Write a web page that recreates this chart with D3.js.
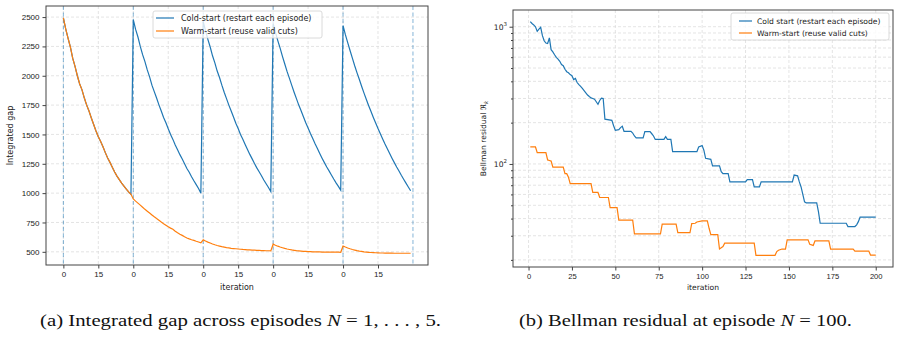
<!DOCTYPE html>
<html>
<head>
<meta charset="utf-8">
<script src="https://cdn.jsdelivr.net/npm/d3@7"></script>
<style>
  body { margin: 0; background: #fff; }
  svg { display: block; font-family: "DejaVu Sans", sans-serif; }
</style>
</head>
<body>
<div id="chart"></div>
<script>
// ---- (a) integrated gap, 5 episodes of 30 iterations ----
var coldEp1 = [2494, 2400, 2320, 2245, 2150, 2080, 2000, 1930, 1880, 1810, 1750, 1700, 1640, 1585, 1530,
               1480, 1440, 1395, 1345, 1300, 1262, 1220, 1180, 1145, 1115, 1085, 1060, 1035, 1010, 990];
var coldEp2 = [2478, 2395, 2330, 2250, 2180, 2120, 2050, 1990, 1920, 1865, 1810, 1752, 1700, 1645, 1600,
               1548, 1500, 1458, 1410, 1370, 1328, 1290, 1250, 1210, 1178, 1140, 1105, 1072, 1040, 1000];
var coldEp3 = [2462, 2385, 2310, 2245, 2170, 2110, 2040, 1985, 1920, 1860, 1805, 1750, 1700, 1648, 1595,
               1550, 1500, 1460, 1415, 1372, 1330, 1292, 1252, 1215, 1182, 1148, 1112, 1080, 1048, 1014];
var coldEp4 = [2445, 2370, 2300, 2235, 2165, 2100, 2035, 1978, 1918, 1860, 1805, 1750, 1702, 1650, 1600,
               1555, 1508, 1465, 1420, 1380, 1338, 1298, 1260, 1222, 1190, 1155, 1120, 1088, 1058, 1026];
var coldEp5 = [2426, 2350, 2282, 2215, 2150, 2085, 2025, 1968, 1908, 1852, 1798, 1745, 1695, 1645, 1598,
               1550, 1505, 1462, 1418, 1378, 1338, 1298, 1260, 1222, 1188, 1152, 1118, 1085, 1052, 1020];
// episode 1 is the same for both methods (nothing to reuse yet)
var warmEp2 = [950, 932, 915, 898, 880, 862, 846, 830, 814, 798, 783, 769, 754, 740, 727,
               713, 702, 692, 676, 662, 650, 640, 628, 618, 610, 603, 597, 590, 584, 577];
var warmEp3 = [602, 592, 583, 575, 567, 560, 554, 549, 544, 540, 536, 533, 530, 528, 526,
               524, 522, 520, 519, 517, 516, 515, 514, 513, 512, 511, 510, 509, 509, 508];
var warmEp4 = [565, 556, 548, 541, 535, 529, 524, 520, 516, 513, 510, 508, 506, 504, 503,
               502, 501, 500, 500, 499, 499, 498, 498, 498, 497, 497, 497, 497, 497, 496];
var warmEp5 = [550, 541, 533, 526, 520, 515, 510, 506, 503, 500, 498, 496, 494, 493, 492,
               491, 490, 490, 489, 489, 489, 489, 488, 488, 488, 488, 488, 488, 488, 488];
var episodeLen = 30;
var episodeStarts = [0, 30, 60, 90, 120, 150];
var gapTickVals = [0, 15, 30, 45, 60, 75, 90, 105, 120, 135];
var gapTickLabels = ["0", "15", "0", "15", "0", "15", "0", "15", "0", "15"];
var gapYTicks = [500, 750, 1000, 1250, 1500, 1750, 2000, 2250, 2500];

// ---- (b) Bellman residual at episode 100 (vertices of the traces) ----
var coldIter = [1, 2, 3, 4, 5, 6, 7, 8, 9, 10, 11, 12, 13, 14, 15, 16, 17, 18, 19, 20, 21, 22, 23, 24, 25,
                26, 27, 28, 29, 30, 31, 32, 33, 34, 35, 36, 37, 38, 39, 40, 41, 42, 43, 44, 48, 49, 50, 52,
                53, 54, 55, 59, 60, 61, 62, 66, 67, 70, 71, 72, 73, 78, 79, 80, 82, 83, 97, 98, 100, 101,
                102, 105, 106, 110, 111, 112, 115, 116, 125, 126, 129, 130, 133, 134, 152, 153, 155, 156,
                157, 158, 159, 160, 166, 167, 168, 183, 184, 188, 189, 190, 191, 200];
var coldRes = [1088, 1055, 1030, 1000, 925, 960, 990, 860, 790, 760, 755, 830, 680, 655, 625, 598, 580, 560,
               530, 520, 490, 470, 462, 448, 440, 412, 420, 392, 378, 368, 355, 342, 330, 318, 310, 303,
               300, 296, 284, 272, 290, 302, 300, 212, 208, 190, 176, 178, 184, 188, 173, 173, 168, 160,
               155, 155, 172, 172, 166, 160, 151, 151, 158, 151, 151, 123, 123, 133, 136, 126, 110, 108,
               97, 97, 88, 85, 85, 74, 74, 77, 77, 68, 68, 74, 74, 83, 82, 74, 68, 60, 53, 52, 52, 45,
               37, 37, 35, 35, 36, 38, 41, 41];
var warmIter = [1, 4, 5, 10, 11, 12, 13, 14, 20, 21, 22, 23, 24, 36, 37, 40, 41, 46, 47, 51, 52, 60, 61, 76,
                77, 85, 86, 93, 94, 96, 97, 100, 103, 104, 105, 109, 110, 111, 112, 113, 130, 131, 142, 143,
                144, 146, 148, 149, 161, 162, 164, 165, 173, 174, 187, 188, 196, 197, 200];
var warmRes = [133, 133, 121, 121, 107, 106, 105, 95, 95, 85, 85, 80, 72, 72, 62, 62, 57, 57, 48, 48, 39, 39,
               31, 31, 36.5, 36.5, 31.6, 31.6, 36.8, 37, 37.8, 38.5, 38.5, 34, 30.6, 30.6, 24, 24.5, 25,
               26.5, 26.5, 21.6, 21.6, 23, 23.5, 24, 24, 28, 28, 26, 25.5, 27.5, 27.5, 24, 24, 23.2, 23.2,
               21.7, 21.7];
var resXTicks = [0, 25, 50, 75, 100, 125, 150, 175, 200];
var resMajor = [100, 1000];
var resMinor = [20, 30, 40, 50, 60, 70, 80, 90, 200, 300, 400, 500, 600, 700, 800, 900];

var blue = "#1f77b4", orange = "#ff7f0e";

var svg = d3.select("#chart")
            .append("svg")
            .attr("width", 900)
            .attr("height", 338);

// ======================= panel (a) =======================
var coldGap = coldEp1.concat(coldEp2, coldEp3, coldEp4, coldEp5);
var warmGap = coldEp1.concat(warmEp2, warmEp3, warmEp4, warmEp5);
var nIter = episodeLen * 5;

var aL = 46, aR = 428, aT = 6, aB = 265;
var gLo = d3.min(warmGap), gHi = d3.max(coldGap.concat(warmGap));
var xA = d3.scaleLinear()
           .domain([-0.05 * (nIter - 1), (nIter - 1) * 1.05])
           .range([aL, aR]);
var yA = d3.scaleLinear()
           .domain([gLo - 0.05 * (gHi - gLo), gHi + 0.05 * (gHi - gLo)])
           .range([aB, aT]);

var pa = svg.append("g");

// grid
pa.selectAll("line.vgrid")
  .data(gapTickVals)
  .enter()
  .append("line")
  .attr("x1", d => xA(d)).attr("x2", d => xA(d))
  .attr("y1", aT).attr("y2", aB)
  .attr("stroke", "#d9d9d9")
  .attr("stroke-dasharray", "3,2")
  .attr("stroke-width", 0.7);
pa.selectAll("line.hgrid")
  .data(gapYTicks)
  .enter()
  .append("line")
  .attr("x1", aL).attr("x2", aR)
  .attr("y1", d => yA(d)).attr("y2", d => yA(d))
  .attr("stroke", "#d9d9d9")
  .attr("stroke-dasharray", "3,2")
  .attr("stroke-width", 0.7);

// episode boundaries
pa.selectAll("line.ep")
  .data(episodeStarts)
  .enter()
  .append("line")
  .attr("x1", d => xA(d)).attr("x2", d => xA(d))
  .attr("y1", aT).attr("y2", aB)
  .attr("stroke", blue)
  .attr("stroke-opacity", 0.55)
  .attr("stroke-dasharray", "4,2.5")
  .attr("stroke-width", 1);

var lineA = d3.line()
              .x((d, i) => xA(i))
              .y(d => yA(d));

pa.append("path")
  .datum(coldGap)
  .attr("d", lineA)
  .attr("fill", "none")
  .attr("stroke", blue)
  .attr("stroke-width", 1.2);

pa.append("path")
  .datum(warmGap)
  .attr("d", lineA)
  .attr("fill", "none")
  .attr("stroke", orange)
  .attr("stroke-width", 1.2);

// axes
var xAxisA = d3.axisBottom(xA)
               .tickValues(gapTickVals)
               .tickFormat((d, i) => gapTickLabels[i])
               .tickSize(3.5)
               .tickPadding(3);
var yAxisA = d3.axisLeft(yA)
               .tickValues(gapYTicks)
               .tickFormat(d3.format("d"))
               .tickSize(3.5)
               .tickPadding(3);

pa.append("g")
  .attr("transform", "translate(0," + aB + ")")
  .call(xAxisA);
pa.append("g")
  .attr("transform", "translate(" + aL + ",0)")
  .call(yAxisA);

pa.append("rect")
  .attr("x", aL).attr("y", aT)
  .attr("width", aR - aL).attr("height", aB - aT)
  .attr("fill", "none")
  .attr("stroke", "#444")
  .attr("stroke-width", 1);

pa.append("text")
  .attr("x", (aL + aR) / 2)
  .attr("y", 290)
  .attr("text-anchor", "middle")
  .style("font-size", "8px")
  .attr("fill", "#222")
  .text("iteration");

pa.append("text")
  .attr("transform", "rotate(-90)")
  .attr("x", -(aT + aB) / 2)
  .attr("y", 13)
  .attr("text-anchor", "middle")
  .style("font-size", "8px")
  .attr("fill", "#222")
  .text("Integrated gap");

// legend
var legA = pa.append("g").attr("transform", "translate(153,11)");
legA.append("rect")
    .attr("width", 169).attr("height", 27)
    .attr("rx", 2)
    .attr("fill", "#fff").attr("fill-opacity", 0.8)
    .attr("stroke", "#d0d0d0").attr("stroke-width", 0.8);
[["Cold-start (restart each episode)", blue], ["Warm-start (reuse valid cuts)", orange]].forEach(function(e, i) {
  legA.append("line")
      .attr("x1", 3).attr("x2", 21)
      .attr("y1", 7 + i * 13).attr("y2", 7 + i * 13)
      .attr("stroke", e[1]).attr("stroke-width", 1.2);
  legA.append("text")
      .attr("x", 28).attr("y", 10 + i * 13)
      .style("font-size", "8px")
      .attr("fill", "#222")
      .text(e[0]);
});

// ======================= panel (b) =======================
var bL = 513, bR = 893, bT = 10, bB = 267;
var rLo = Math.log10(d3.min(warmRes)), rHi = Math.log10(d3.max(coldRes));
var xB = d3.scaleLinear()
           .domain([1 - 0.05 * 199, 200 + 0.05 * 199])
           .range([bL, bR]);
var yB = d3.scaleLog()
           .domain([Math.pow(10, rLo - 0.05 * (rHi - rLo)), Math.pow(10, rHi + 0.05 * (rHi - rLo))])
           .range([bB, bT]);

var pb = svg.append("g");

pb.selectAll("line.vgrid")
  .data(resXTicks)
  .enter()
  .append("line")
  .attr("x1", d => xB(d)).attr("x2", d => xB(d))
  .attr("y1", bT).attr("y2", bB)
  .attr("stroke", "#d9d9d9")
  .attr("stroke-dasharray", "3,2")
  .attr("stroke-width", 0.7);
pb.selectAll("line.hgrid")
  .data(resMajor.concat(resMinor))
  .enter()
  .append("line")
  .attr("x1", bL).attr("x2", bR)
  .attr("y1", d => yB(d)).attr("y2", d => yB(d))
  .attr("stroke", "#d9d9d9")
  .attr("stroke-dasharray", "3,2")
  .attr("stroke-width", 0.7);

var coldPts = coldIter.map((d, i) => [d, coldRes[i]]);
var warmPts = warmIter.map((d, i) => [d, warmRes[i]]);
var lineB = d3.line()
              .x(d => xB(d[0]))
              .y(d => yB(d[1]));

pb.append("path")
  .datum(coldPts)
  .attr("d", lineB)
  .attr("fill", "none")
  .attr("stroke", blue)
  .attr("stroke-width", 1.2);
pb.append("path")
  .datum(warmPts)
  .attr("d", lineB)
  .attr("fill", "none")
  .attr("stroke", orange)
  .attr("stroke-width", 1.2);

var xAxisB = d3.axisBottom(xB)
               .tickValues(resXTicks)
               .tickSize(3.5)
               .tickPadding(3);
var yAxisB = d3.axisLeft(yB)
               .tickValues(resMajor)
               .tickFormat("")
               .tickSize(3.5);
var yMinorB = d3.axisLeft(yB)
                .tickValues(resMinor)
                .tickFormat("")
                .tickSize(2);

pb.append("g")
  .attr("transform", "translate(0," + bB + ")")
  .call(xAxisB);
pb.append("g")
  .attr("transform", "translate(" + bL + ",0)")
  .call(yAxisB);
pb.append("g")
  .attr("transform", "translate(" + bL + ",0)")
  .call(yMinorB);

// 10^n labels
var expLabels = pb.selectAll("text.exp")
                  .data(resMajor)
                  .enter()
                  .append("text")
                  .attr("x", bL - 6)
                  .attr("y", d => yB(d) + 3)
                  .attr("text-anchor", "end")
                  .style("font-size", "7.6px")
                  .attr("fill", "#222");
expLabels.append("tspan").text("10");
expLabels.append("tspan")
         .attr("dy", -3.5)
         .style("font-size", "5.5px")
         .text(d => Math.round(Math.log10(d)));

pb.append("rect")
  .attr("x", bL).attr("y", bT)
  .attr("width", bR - bL).attr("height", bB - bT)
  .attr("fill", "none")
  .attr("stroke", "#444")
  .attr("stroke-width", 1);

pb.append("text")
  .attr("x", (bL + bR) / 2)
  .attr("y", 290)
  .attr("text-anchor", "middle")
  .style("font-size", "7.6px")
  .attr("fill", "#222")
  .text("iteration");

var yLabB = pb.append("text")
              .attr("transform", "rotate(-90)")
              .attr("x", -(bT + bB) / 2)
              .attr("y", 486)
              .attr("text-anchor", "middle")
              .style("font-size", "7.6px")
              .attr("fill", "#222");
yLabB.append("tspan").text("Bellman residual ℜ");
yLabB.append("tspan")
     .attr("dy", 2)
     .style("font-size", "5.5px")
     .style("font-style", "italic")
     .text("k");

var legB = pb.append("g").attr("transform", "translate(731,13)");
legB.append("rect")
    .attr("width", 158).attr("height", 27)
    .attr("rx", 2)
    .attr("fill", "#fff").attr("fill-opacity", 0.8)
    .attr("stroke", "#d0d0d0").attr("stroke-width", 0.8);
[["Cold start (restart each episode)", blue], ["Warm-start (reuse valid cuts)", orange]].forEach(function(e, i) {
  legB.append("line")
      .attr("x1", 8).attr("x2", 21)
      .attr("y1", 8 + i * 12).attr("y2", 8 + i * 12)
      .attr("stroke", e[1]).attr("stroke-width", 1.2);
  legB.append("text")
      .attr("x", 26).attr("y", 11 + i * 12)
      .style("font-size", "7.6px")
      .attr("fill", "#222")
      .text(e[0]);
});

// tick label styling
svg.selectAll(".tick text")
   .style("font-size", "8px")
   .attr("fill", "#222");
pb.selectAll(".tick text").style("font-size", "7.6px");
svg.selectAll(".tick line").attr("stroke", "#444");
svg.selectAll(".domain").remove();

// ======================= captions =======================
function caption(x, width, parts) {
  var t = svg.append("text")
             .attr("x", x)
             .attr("y", 326)
             .attr("textLength", width)
             .attr("lengthAdjust", "spacingAndGlyphs")
             .style("font-family", "'Liberation Serif', serif")
             .style("font-size", "17px")
             .attr("fill", "#111");
  parts.forEach(function(p) {
    t.append("tspan")
     .style("font-style", p[1] ? "italic" : "normal")
     .text(p[0]);
  });
}
caption(40, 401, [["(a) Integrated gap across episodes ", false], ["N", true], [" = 1, . . . , 5.", false]]);
caption(519, 333, [["(b) Bellman residual at episode ", false], ["N", true], [" = 100.", false]]);
</script>
</body>
</html>
